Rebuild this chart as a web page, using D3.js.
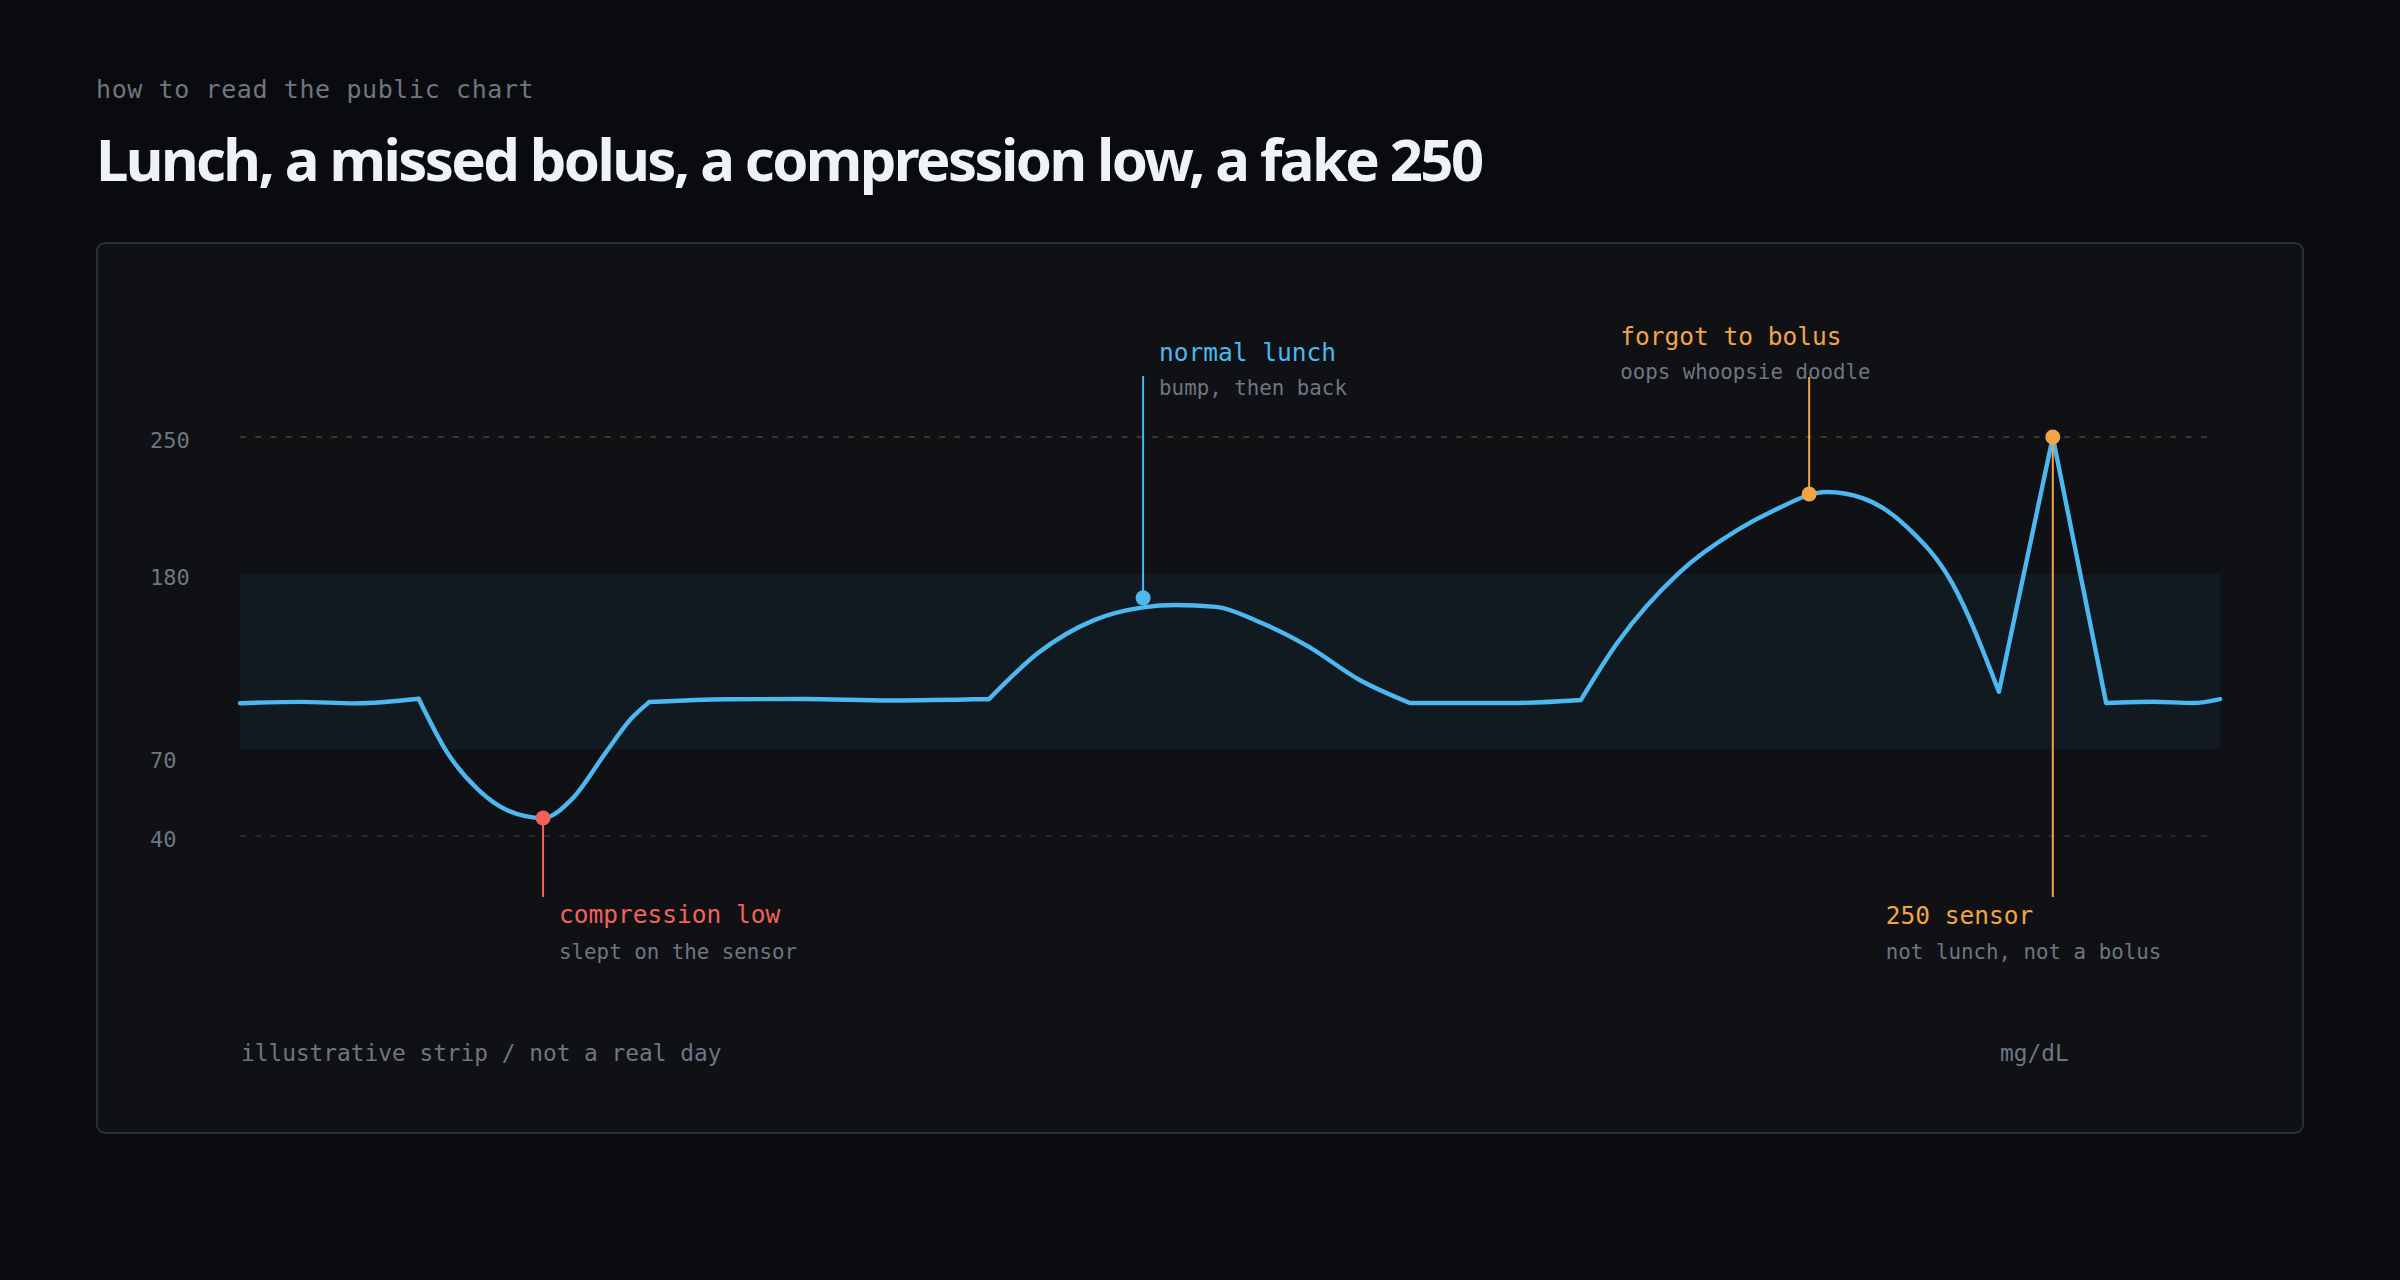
<!DOCTYPE html>
<html>
<head>
<meta charset="utf-8">
<script src="https://cdn.jsdelivr.net/npm/d3@7"></script>
<style>
  html, body { margin: 0; padding: 0; background: #0a0b0e; }
  svg { display: block; }
</style>
</head>
<body>
<svg id="strip" width="2400" height="1280"></svg>
<script>
// readings (minutes into the strip, mg/dL)
const readingMinutes = [0, 11, 21, 32.5, 37.6, 43.3, 48.7, 55.1, 60.4, 66.4, 71.1, 74.4,
  88.7, 102.5, 118.2, 136.2, 145.1, 155.3, 164.2, 170.1, 177.5, 184.9, 194.2, 203.5, 212.7,
  231.3, 243.8, 250.4, 261.6, 272.3, 278.7, 288.5, 295, 303.1, 311.3, 319.8, 329.6,
  339.3, 347.8, 355.1, 360];
const readingValues = [98.8, 99.6, 98.7, 101.6, 69, 56, 48.8, 46.2, 52.8, 68.5, 89, 99.5,
  101.3, 101.4, 100.5, 101.4, 130.3, 151, 159, 160.5, 159.3, 150.5, 134.5, 113.5, 98.9,
  98.9, 100.8, 136.6, 180.5, 202.5, 212.2, 221.9, 218.8, 204, 174.3, 106, 250,
  98.9, 99.7, 98.9, 101.4];
// indices where the trace has a corner instead of a smooth turn
const cornerIndices = [3, 11, 15, 24, 26, 35, 36, 37];

const tickValues = [250, 180, 70, 40];
const targetRange = [70, 180];
const highLine = 250;
const lowLine = 40;

const noteLabels = ['compression low', 'normal lunch', 'forgot to bolus', '250 sensor'];
const noteTexts = ['slept on the sensor', 'bump, then back', 'oops whoopsie doodle', 'not lunch, not a bolus'];
const noteMinutes = [55.1, 164.2, 285.3, 329.6];
const noteValues = [46.2, 165, 220.9, 250];
const noteKinds = ['low', 'ok', 'high', 'high'];

const colors = {
  ok: '#4db8f0',
  low: '#f2615a',
  high: '#f2a548',
  muted: '#6e7681',
};
const mono = '"DejaVu Sans Mono", monospace';

// where each note's leader ends and where its text sits
const noteLayout = [
  {leaderTo: 897, dx: 16, titleY: 923, textY: 959},
  {leaderTo: 376, dx: 16, titleY: 361, textY: 395},
  {leaderTo: 377, dx: -189, titleY: 345, textY: 379},
  {leaderTo: 897, dx: -167, titleY: 924, textY: 959},
];

let svg = d3.select('#strip');

svg.append('text')
  .attr('x', 96)
  .attr('y', 98)
  .attr('fill', colors.muted)
  .style('font-family', mono)
  .style('font-size', '25px')
  .style('letter-spacing', '0.6px')
  .text('how to read the public chart');

svg.append('text')
  .attr('x', 96)
  .attr('y', 181)
  .attr('fill', '#f0f3f6')
  .style('font-family', '"Noto Sans", sans-serif')
  .style('font-weight', 700)
  .style('font-size', '58px')
  .style('letter-spacing', '-2.6px')
  .text('Lunch, a missed bolus, a compression low, a fake 250');

svg.append('rect')
  .attr('x', 97)
  .attr('y', 243)
  .attr('width', 2206)
  .attr('height', 890)
  .attr('rx', 8)
  .attr('fill', '#0f1115')
  .attr('stroke', '#2a2e35')
  .attr('stroke-width', 2);

let x = d3.scaleLinear().domain([0, 360]).range([240, 2220]);
// the strip stretches the target band, so y is piecewise
let y = d3.scaleLinear().domain([40, 70, 180, 250]).range([836, 749, 574, 437]);

svg.append('rect')
  .attr('x', x(0))
  .attr('y', y(targetRange[1]))
  .attr('width', x(360) - x(0))
  .attr('height', y(targetRange[0]) - y(targetRange[1]))
  .attr('fill', '#111a20');

svg.append('line')
  .attr('x1', x(0)).attr('x2', x(360) - 4)
  .attr('y1', y(highLine)).attr('y2', y(highLine))
  .attr('stroke', colors.high)
  .attr('stroke-opacity', 0.32)
  .attr('stroke-width', 1.6)
  .attr('stroke-dasharray', '6 9.2');

svg.append('line')
  .attr('x1', x(0)).attr('x2', x(360) - 4)
  .attr('y1', y(lowLine)).attr('y2', y(lowLine))
  .attr('stroke', colors.low)
  .attr('stroke-opacity', 0.25)
  .attr('stroke-width', 1.6)
  .attr('stroke-dasharray', '6 9.2');

svg.selectAll('text.tick')
  .data(tickValues)
  .enter()
  .append('text')
  .attr('class', 'tick')
  .attr('x', 150)
  .attr('y', d => y(d) + (d === 70 ? 19 : 11))
  .attr('fill', colors.muted)
  .style('font-family', mono)
  .style('font-size', '22px')
  .text(d => d);

// split the trace at its corners, smooth inside each piece
let points = readingMinutes.map((m, i) => ({minute: m, value: readingValues[i]}));
let cuts = [0].concat(cornerIndices, [points.length - 1]);
let pieces = d3.pairs(cuts).map(p => points.slice(p[0], p[1] + 1));

let trace = d3.line()
  .x(d => x(d.minute))
  .y(d => y(d.value))
  .curve(d3.curveMonotoneX);

svg.append('path')
  .attr('d', pieces.map(p => trace(p)).join(''))
  .attr('fill', 'none')
  .attr('stroke', colors.ok)
  .attr('stroke-width', 4.4)
  .attr('stroke-linejoin', 'round')
  .attr('stroke-linecap', 'round');

let notes = noteLabels.map((label, i) => ({
  label: label,
  text: noteTexts[i],
  minute: noteMinutes[i],
  value: noteValues[i],
  color: colors[noteKinds[i]],
  layout: noteLayout[i],
}));

let note = svg.selectAll('g.note')
  .data(notes)
  .enter()
  .append('g')
  .attr('class', 'note');

note.append('line')
  .attr('x1', d => x(d.minute)).attr('x2', d => x(d.minute))
  .attr('y1', d => y(d.value)).attr('y2', d => d.layout.leaderTo)
  .attr('stroke', d => d.color)
  .attr('stroke-width', 2);

note.append('circle')
  .attr('cx', d => x(d.minute))
  .attr('cy', d => y(d.value))
  .attr('r', 7.5)
  .attr('fill', d => d.color);

note.append('text')
  .attr('x', d => x(d.minute) + d.layout.dx)
  .attr('y', d => d.layout.titleY)
  .attr('fill', d => d.color)
  .style('font-family', mono)
  .style('font-size', '24.5px')
  .text(d => d.label);

note.append('text')
  .attr('x', d => x(d.minute) + d.layout.dx)
  .attr('y', d => d.layout.textY)
  .attr('fill', colors.muted)
  .style('font-family', mono)
  .style('font-size', '20.8px')
  .text(d => d.text);

svg.append('text')
  .attr('x', 241)
  .attr('y', 1061)
  .attr('fill', colors.muted)
  .style('font-family', mono)
  .style('font-size', '22.8px')
  .text('illustrative strip / not a real day');

svg.append('text')
  .attr('x', 2000)
  .attr('y', 1061)
  .attr('fill', colors.muted)
  .style('font-family', mono)
  .style('font-size', '22.8px')
  .text('mg/dL');
</script>
</body>
</html>
